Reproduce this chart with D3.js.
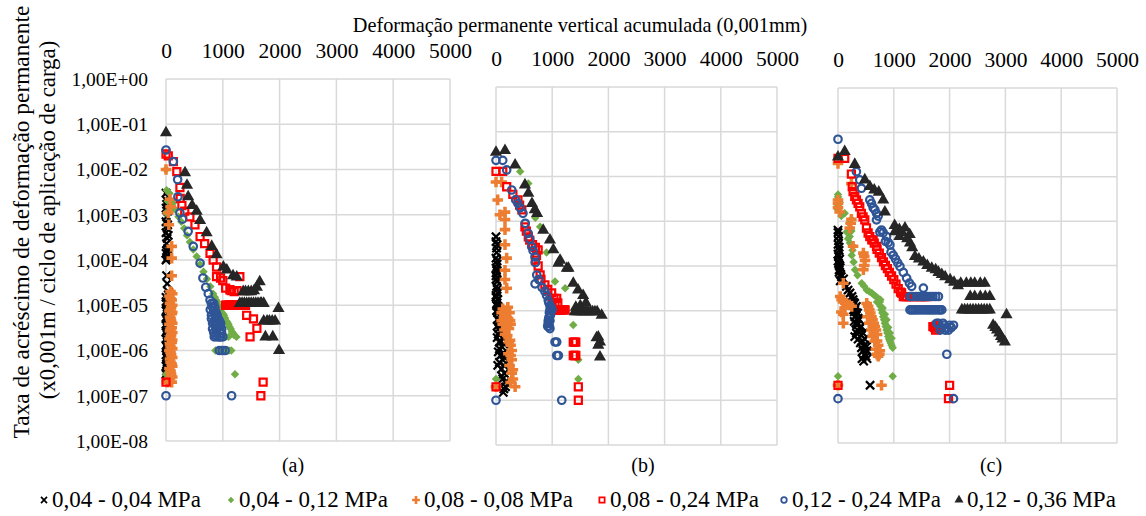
<!DOCTYPE html>
<html>
<head>
<meta charset="utf-8">
<script src="https://cdn.jsdelivr.net/npm/d3@7"></script>
<style>
  body { margin: 0; background: #fff; }
  svg text { font-family: 'Liberation Serif', 'Times New Roman', serif; fill: #000; }
</style>
</head>
<body>
<script>
// ---------------- DATA ----------------
const categories = ["0,04 - 0,04 MPa", "0,04 - 0,12 MPa", "0,08 - 0,08 MPa", "0,08 - 0,24 MPa", "0,12 - 0,24 MPa", "0,12 - 0,36 MPa"];
const panelLabels = ["(a)", "(b)", "(c)"];
const xTicks = [0, 1000, 2000, 3000, 4000, 5000];
const yTickValues = [1, 1e-1, 1e-2, 1e-3, 1e-4, 1e-5, 1e-6, 1e-7, 1e-8];
const yTickLabels = ["1,00E+00", "1,00E-01", "1,00E-02", "1,00E-03", "1,00E-04", "1,00E-05", "1,00E-06", "1,00E-07", "1,00E-08"];
const xTitle = "Deformação permanente vertical acumulada (0,001mm)";
const yTitle1 = "Taxa de acréscimo de deformação permanente";
const yTitle2 = "(x0,001m / ciclo de aplicação de carga)";

// Panel (a): [deformation, rate]
const a_004_004 = [[0,3e-3],[20,2e-3],[0,1.4e-3],[10,9e-4],[30,6e-4],[0,4e-4],[20,3e-4],[10,2.3e-4],[30,1.8e-4],[0,1.4e-4],[20,1.1e-4],[10,4.5e-5],[0,1.5e-5],[30,1.3e-5],[10,1.1e-5],[20,9e-6],[0,7.5e-6],[30,6.5e-6],[10,5.5e-6],[20,4.5e-6],[0,3.8e-6],[30,3.2e-6],[10,2.7e-6],[20,2.2e-6],[0,1.8e-6],[30,1.5e-6],[10,1.2e-6],[20,1e-6],[0,8e-7],[30,6.5e-7],[10,5e-7],[20,4e-7],[0,3e-7],[10,2.5e-7],
  [40,2.5e-3],[10,1.7e-3],[30,1.2e-3],[0,7e-4],[20,5e-4],[40,3.5e-4],[10,1.6e-4],[30,1.25e-4],[0,1e-4],[20,3e-5],[40,2e-5],[40,1.7e-5],[0,1.2e-5],[40,1e-5],[20,8e-6],[40,5e-6],[0,5e-6],[40,3.5e-6],[0,2.5e-6],[40,2e-6],[0,1.3e-6],[40,9e-7],[10,7e-7],[40,5.5e-7],[0,4.5e-7],[30,3.5e-7]];
const a_004_012 = [[0,1e-2],[10,3.5e-3],[60,3e-3],[30,2e-3],[0,1.1e-3],[120,1.8e-3],[160,1.3e-3],[220,9e-4],[270,7e-4],[320,5e-4],[370,3.5e-4],[420,2.5e-4],[480,1.7e-4],[540,1.2e-4],[600,8e-5],[660,5.5e-5],[720,3.8e-5],[780,2.6e-5],[830,1.8e-5],[880,1.3e-5],[920,1e-5],[960,8e-6],[1000,6.5e-6],[1040,5.2e-6],[1080,4.2e-6],[1120,3.3e-6],[1160,2.6e-6],[1200,2.2e-6],[1240,2e-6],[870,1e-6],[920,1e-6],[1000,1e-6],[1080,1e-6],[1150,1e-6],[1215,3e-7],[0,3e-7],
  [860,1.5e-5],[900,1.2e-5],[940,9e-6],[980,7e-6],[1020,6e-6],[1060,4.5e-6],[1100,3.8e-6],[1140,3e-6],[1180,2.4e-6],[1100,2e-6],[1050,2e-6],[960,1e-6],[1040,1e-6],[1110,1e-6]];
const a_008_008 = [[0,1e-2],[70,2.2e-3],[80,1.5e-3],[40,1.1e-3],[50,6e-4],[100,2e-4],[100,1.1e-4],[100,4.5e-5],[80,2e-5],[60,1.6e-5],[100,1.3e-5],[70,1.1e-5],[90,9e-6],[60,7.5e-6],[100,6.5e-6],[70,5.5e-6],[90,4.5e-6],[60,3.8e-6],[100,3.2e-6],[70,2.7e-6],[90,2.2e-6],[60,1.8e-6],[100,1.5e-6],[80,1.2e-6],[60,1e-6],[90,8e-7],[70,6.5e-7],[100,5e-7],[60,4e-7],[90,3e-7],[70,2.4e-7],[100,2e-7],[20,2e-7],
  [110,1.8e-5],[80,1.4e-5],[110,1e-5],[80,8e-6],[110,7e-6],[80,5e-6],[110,4e-6],[80,3e-6],[110,2.5e-6],[80,2e-6],[110,1.7e-6],[70,1.4e-6],[110,1.1e-6],[80,9e-7],[110,7e-7],[80,5.5e-7],[110,4.5e-7],[80,3.5e-7],[110,2.6e-7]];
const a_008_024 = [[0,2.2e-2],[40,2e-2],[130,1.5e-2],[190,9e-3],[245,4e-3],[250,2.3e-3],[280,1.6e-3],[330,1.2e-3],[420,9e-4],[510,6e-4],[600,3.3e-4],[680,2.3e-4],[775,1.4e-4],[830,1e-4],[890,7e-5],[890,4.3e-5],[1000,3.5e-5],[1125,2.2e-5],[1200,2e-5],[1300,4.3e-5],[1050,1e-5],[1100,1e-5],[1150,1e-5],[1200,1e-5],[1250,1e-5],[1300,1e-5],[1350,1e-5],[1400,1e-5],[1420,6e-6],[1540,5e-6],[1600,3.1e-6],[1480,2e-6],[0,2e-7],[1710,2e-7],[1670,1e-7],
  [1075,1e-5],[1125,1e-5],[1175,1e-5],[1225,1e-5],[1275,1e-5],[1325,1e-5],[1375,1e-5],[1150,2.1e-5],[1250,2.1e-5],[1050,2.4e-5],[960,4e-5]];
const a_012_024 = [[0,2.7e-2],[130,1.5e-2],[205,6e-3],[210,2.5e-3],[245,1.1e-3],[290,8e-4],[390,4.3e-4],[480,2e-4],[600,8.5e-5],[650,4e-5],[700,2.5e-5],[745,1.8e-5],[775,1.3e-5],[800,1.1e-5],[820,9e-6],[840,7.5e-6],[860,6e-6],[880,5e-6],[900,4e-6],[920,3.3e-6],[950,2.8e-6],[980,2.4e-6],[1000,2e-6],[850,2e-6],[880,3e-6],[820,4e-6],[800,6e-6],[960,4e-6],[940,1e-6],[990,1e-6],[1040,1e-6],[0,1e-7],[1155,1e-7],
  [780,8e-6],[800,5e-6],[820,3e-6],[840,2.5e-6],[860,2.2e-6],[900,2e-6],[940,2e-6],[960,2e-6],[840,1.1e-5],[860,9e-6],[880,7e-6],[900,6e-6],[920,5e-6],[940,4.5e-6],[960,3.5e-6],[980,3e-6],[900,3e-6],[860,4e-6],[880,3.5e-6]];
const a_012_036 = [[0,6.5e-2],[335,8.5e-3],[370,4.5e-3],[390,2.5e-3],[460,1.6e-3],[540,1.2e-3],[600,7.5e-4],[715,4e-4],[805,2e-4],[890,1.3e-4],[1010,7e-5],[1070,6e-5],[1180,4.5e-5],[1245,4.2e-5],[1360,2e-5],[1450,2e-5],[1550,2.1e-5],[1650,3.3e-5],[1300,1.1e-5],[1380,1.1e-5],[1460,1.1e-5],[1540,1.1e-5],[1620,1.1e-5],[1680,1.1e-5],[1980,8.5e-6],[1720,4.5e-6],[1820,4.5e-6],[1920,4.5e-6],[1750,2e-6],[1880,2e-6],[1990,1e-6],
  [1340,1.1e-5],[1420,1.1e-5],[1500,1.1e-5],[1580,1.1e-5],[1660,1.1e-5],[1720,1.1e-5],[1400,2e-5],[1500,2e-5],[1600,2.5e-5],[1780,4.5e-6],[1870,4.5e-6]];

// Panel (b)
const b_004_004 = [[0,4.5e-4],[20,3e-4],[10,2e-4],[0,1.5e-4],[20,1.1e-4],[10,8e-5],[0,6e-5],[20,4.5e-5],[10,3.5e-5],[30,2.5e-5],[0,2e-5],[20,1.5e-5],[40,1.2e-5],[10,1e-5],[60,8e-6],[30,6.5e-6],[80,5e-6],[50,4e-6],[100,3.2e-6],[20,2.5e-6],[60,2e-6],[100,1.6e-6],[40,1.2e-6],[80,1e-6],[120,8e-7],[30,6e-7],[100,5e-7],[150,4e-7],[120,3e-7],[170,2e-7],[130,1.5e-7],
  [0,3.5e-4],[10,2.5e-4],[20,1.3e-4],[0,9e-5],[20,7e-5],[0,5e-5],[20,3e-5],[0,2.2e-5],[30,1.8e-5],[10,1.3e-5],[50,1e-5],[30,9e-6],[60,6e-6],[20,4.5e-6],[80,3.5e-6],[40,3e-6],[120,2.5e-6],[80,2e-6],[140,1.8e-6],[60,1.4e-6],[120,1.1e-6],[150,9e-7],[60,7e-7],[140,6e-7],[100,3.5e-7],[160,2.5e-7],[140,1.8e-7]];
const b_004_012 = [[430,1.3e-2],[575,7e-3],[700,1.2e-3],[785,7.5e-4],[900,2e-4],[1050,4.5e-5],[1230,3.2e-5],[1375,4.8e-6],[1465,8e-7],[1465,3e-7],[0,3e-7]];
const b_008_008 = [[0,7.5e-3],[100,7.5e-3],[30,3e-3],[160,1.6e-3],[70,1.4e-3],[160,1.1e-3],[160,6.5e-4],[160,3e-4],[190,1.5e-4],[160,8e-5],[160,5e-5],[190,3.2e-5],[210,1.2e-5],[100,9e-6],[150,8e-6],[200,7e-6],[250,6e-6],[120,5e-6],[180,4.5e-6],[230,4e-6],[150,3.7e-6],[250,2.2e-6],[280,1.3e-6],[280,8e-7],[300,4.8e-7],[340,2e-7],[0,2e-7],
  [120,1.1e-5],[180,1e-5],[240,9e-6],[140,7e-6],[220,6.5e-6],[260,5e-6],[200,5.5e-6],[100,6e-6],[160,3e-6],[200,2.8e-6],[230,2e-6],[260,1.7e-6],[220,1.1e-6],[260,1e-6],[240,6e-7],[280,4e-7],[300,3e-7],[260,2.5e-7]];
const b_008_024 = [[0,1.3e-2],[120,1.3e-2],[190,5.9e-3],[390,3e-3],[460,1.8e-3],[515,7.5e-4],[575,4.5e-4],[650,3e-4],[750,2.3e-4],[700,1.35e-4],[750,1e-4],[785,6.3e-5],[870,3.8e-5],[990,2.5e-5],[1080,1.9e-5],[990,1.05e-5],[1040,1.05e-5],[1090,1.05e-5],[1140,1.05e-5],[1190,1.05e-5],[1230,1.05e-5],[1375,2e-6],[1420,2e-6],[1375,1e-6],[1420,1e-6],[0,2e-7],[1465,2e-7],[1465,1e-7],
  [1015,1.05e-5],[1065,1.05e-5],[1115,1.05e-5],[1165,1.05e-5],[1210,1.05e-5],[1000,1.5e-5],[1050,1.5e-5],[1100,1.5e-5],[1400,2e-6],[1400,1e-6],[1030,1.9e-5],[300,4e-3],[420,2.3e-3],[540,6e-4],[600,3.8e-4],[700,2.6e-4],[720,1.7e-4],[800,5e-5],[920,3e-5]];
const b_012_024 = [[0,2.3e-2],[120,2.3e-2],[190,1.4e-2],[280,5e-3],[390,2.5e-3],[480,1.5e-3],[570,5.4e-4],[635,2.7e-4],[695,1.6e-4],[725,6.3e-5],[695,4e-5],[870,2.7e-5],[930,1.7e-5],[990,1.05e-5],[960,1.05e-5],[930,6e-6],[930,5.2e-6],[960,4e-6],[1050,2e-6],[1080,2e-6],[1080,1e-6],[1110,1e-6],[0,1e-7],[1170,1e-7],
  [940,1.5e-5],[960,1.3e-5],[980,1.2e-5],[950,9e-6],[970,8e-6],[940,7e-6],[960,6e-6],[980,1e-5],[1000,1.05e-5],[920,4.5e-6],[950,4.5e-6],[350,3e-3],[430,2e-3],[520,9e-4],[600,4e-4],[660,2.2e-4],[700,1.2e-4],[760,5e-5],[820,3.3e-5],[900,2.2e-5]];
const b_012_036 = [[0,3.5e-2],[160,3.8e-2],[340,1.8e-2],[515,6.5e-3],[575,4.2e-3],[640,2.5e-3],[690,1.8e-3],[730,1.5e-3],[840,6.3e-4],[960,3.8e-4],[1020,2.3e-4],[1110,1.15e-4],[1140,1.35e-4],[1260,8.9e-5],[1290,8.9e-5],[1375,4.1e-5],[1460,2.9e-5],[1550,2.2e-5],[1400,9.5e-6],[1480,9.5e-6],[1560,9.5e-6],[1640,9.5e-6],[1720,9.5e-6],[1800,9.5e-6],[1880,7.9e-6],[1790,2.5e-6],[1850,2e-6],[1850,9.3e-7],
  [1440,9.5e-6],[1520,9.5e-6],[1600,9.5e-6],[1680,9.5e-6],[1760,9.5e-6],[1420,1.2e-5],[1500,1.3e-5],[1600,1.5e-5],[1820,2.6e-6],[1820,1.7e-6]];

// Panel (c)
const c_004_004 = [[0,6.3e-4],[10,4.5e-4],[0,3e-4],[20,2.2e-4],[0,1.8e-4],[30,1.4e-4],[10,1.1e-4],[40,9e-5],[20,7e-5],[60,5.6e-5],[40,4.5e-5],[150,3.4e-5],[215,2.4e-5],[270,1.7e-5],[300,1.4e-5],[330,1.2e-5],[280,1e-5],[350,8.5e-6],[300,7e-6],[380,6e-6],[320,5e-6],[420,4.2e-6],[350,3.5e-6],[450,3e-6],[300,2.5e-6],[480,2.2e-6],[400,1.8e-6],[515,1.5e-6],[450,1.2e-6],[500,9e-7],[460,7e-7],[575,2e-7],
  [0,5.5e-4],[10,3.6e-4],[20,2.6e-4],[10,1.6e-4],[0,1.25e-4],[30,1e-4],[20,8e-5],[50,6.3e-5],[100,5e-5],[180,2.8e-5],[250,2e-5],[280,1.5e-5],[310,1.1e-5],[290,9e-6],[330,7.5e-6],[360,6.5e-6],[290,5.5e-6],[340,4.5e-6],[390,4e-6],[330,3e-6],[420,2.7e-6],[360,2.2e-6],[440,2e-6],[480,1.6e-6],[420,1.4e-6],[520,1.2e-6],[480,1e-6],[430,8e-7],[520,8e-7]];
const c_004_012 = [[0,4e-3],[0,3e-3],[0,2.2e-3],[60,1.3e-3],[240,1.1e-3],[155,5.7e-4],[210,4.5e-4],[215,3.2e-4],[270,2.7e-4],[245,1.7e-4],[305,8e-5],[425,4e-5],[515,2.8e-5],[605,2.4e-5],[680,2e-5],[750,1.5e-5],[780,1e-5],[810,7e-6],[840,5e-6],[870,3.5e-6],[900,2.5e-6],[930,2e-6],[960,1.6e-6],[980,1.4e-6],[980,3.2e-7],[0,3.2e-7],
  [0,3.5e-3],[30,2.6e-3],[0,1.8e-3],[120,1.5e-3],[200,9e-4],[240,6e-4],[180,4e-4],[260,2.2e-4],[280,1.2e-4],[350,6e-5],[470,3.4e-5],[560,2.6e-5],[640,2.2e-5],[720,1.8e-5],[760,1.2e-5],[795,8.5e-6],[825,6e-6],[855,4.2e-6],[885,3e-6],[915,2.2e-6],[945,1.8e-6],[700,1.5e-5],[760,1.7e-5],[800,1.1e-5],[840,8e-6],[870,6e-6],[900,4e-6],[930,3e-6],[960,2.3e-6]];
const c_008_008 = [[0,2e-2],[240,7e-3],[0,3e-3],[0,2e-3],[240,1.1e-3],[210,7e-4],[270,2.7e-4],[455,1.9e-4],[485,1.3e-4],[455,8e-5],[95,4e-5],[65,1.7e-5],[150,1.4e-5],[245,1.2e-5],[95,8e-6],[95,5e-6],[515,1.4e-5],[560,1e-5],[600,7e-6],[640,5e-6],[680,3.5e-6],[620,2.5e-6],[700,2e-6],[750,1.2e-6],[720,9e-7],[780,2e-7],[0,2e-7],
  [0,2.5e-3],[30,1.6e-3],[230,9e-4],[470,1.6e-4],[470,1e-4],[40,2e-5],[90,1.5e-5],[200,1.3e-5],[120,1.1e-5],[60,9e-6],[540,1.2e-5],[580,8.5e-6],[530,7e-6],[620,6e-6],[560,5e-6],[660,4.2e-6],[600,3.5e-6],[640,3e-6],[700,2.8e-6],[660,2e-6],[720,1.6e-6],[680,1.3e-6],[740,1e-6],[700,1e-6]];
const c_008_024 = [[0,2.6e-2],[120,2.6e-2],[240,1.15e-2],[270,4.6e-3],[330,3e-3],[390,2.1e-3],[420,1.5e-3],[480,1.07e-3],[540,5.4e-4],[605,3.8e-4],[630,3.8e-4],[690,2.7e-4],[700,2.3e-4],[780,1.5e-4],[850,1e-4],[920,7e-5],[1000,4.8e-5],[1080,3e-5],[1170,2e-5],[1230,2e-5],[1330,2e-5],[1450,2e-5],[1590,2e-5],[1700,4.2e-6],[1790,3.9e-6],[0,2e-7],[2000,2e-7],[1980,1e-7],
  [1200,2e-5],[1280,2e-5],[1380,2e-5],[1500,2e-5],[1550,2e-5],[1140,2.4e-5],[1730,4e-6],[1760,4.5e-6],[1750,3.5e-6],[255,6e-3],[300,3.6e-3],[360,2.5e-3],[450,1.25e-3],[510,7e-4],[570,4.5e-4],[650,3.2e-4],[740,1.9e-4],[815,1.2e-4],[885,8.5e-5],[960,5.8e-5],[1040,3.8e-5],[1120,2.5e-5]];
const c_012_024 = [[0,7e-2],[330,1.3e-2],[390,8.5e-3],[420,5.5e-3],[570,3e-3],[630,2e-3],[690,1.5e-3],[690,1.07e-3],[750,5.7e-4],[780,6.3e-4],[870,4.5e-4],[850,3.5e-4],[930,2.9e-4],[950,2e-4],[1030,1.4e-4],[1110,9.5e-5],[1230,5.2e-5],[1320,3.4e-5],[1530,3.1e-5],[1290,2e-5],[1400,2e-5],[1500,2e-5],[1600,2e-5],[1700,2e-5],[1800,2e-5],[1290,1e-5],[1350,1e-5],[1420,1e-5],[1500,1e-5],[1580,1e-5],[1650,1e-5],[1720,1e-5],[1800,1e-5],[1860,1e-5],[1770,5e-6],[1850,4e-6],[1920,3.5e-6],[2000,4.5e-6],[2070,4.5e-6],[1950,1e-6],[0,1e-7],[2070,1e-7],
  [1320,1e-5],[1385,1e-5],[1460,1e-5],[1540,1e-5],[1615,1e-5],[1685,1e-5],[1760,1e-5],[1830,1e-5],[1330,2e-5],[1450,2e-5],[1550,2e-5],[1650,2e-5],[1750,2e-5],[1800,5e-6],[1880,5e-6],[1950,4e-6],[2030,4e-6],[1830,3.5e-6],[1900,4.5e-6],[1980,3.5e-6],[600,2.5e-3],[660,1.8e-3],[720,1.3e-3],[810,5.5e-4],[900,3.3e-4],[990,1.7e-4],[1070,1.15e-4],[1170,7e-5],[1280,4e-5]];
const c_012_036 = [[0,2.8e-2],[120,3.7e-2],[300,1.9e-2],[480,8.5e-3],[570,6e-3],[650,5e-3],[730,4.5e-3],[810,3e-3],[840,1.6e-3],[1015,8e-4],[1100,6.5e-4],[1200,7e-4],[1285,5e-4],[1020,5.8e-4],[1100,4.5e-4],[1240,4e-4],[1290,3.2e-4],[1380,1.6e-4],[1530,1.2e-4],[1680,8.7e-5],[1800,7e-5],[1920,5.6e-5],[2010,4.8e-5],[2150,3.5e-5],[2300,4e-5],[2450,4e-5],[2630,4e-5],[2370,2e-5],[2550,2e-5],[2720,2e-5],[2220,1e-5],[2320,1e-5],[2420,1e-5],[2520,1e-5],[2620,1e-5],[2720,1e-5],[3020,7.8e-6],[2780,4.5e-6],[2850,3.5e-6],[2920,2.5e-6],[2990,1.9e-6],
  [2200,4e-5],[2380,4e-5],[2550,4e-5],[2450,2e-5],[2640,2e-5],[2270,1e-5],[2370,1e-5],[2470,1e-5],[2570,1e-5],[2670,1e-5],[2820,4e-6],[2890,3e-6],[2950,2.2e-6],[1150,5.5e-4],[1330,2.5e-4],[1450,1.4e-4],[1600,1e-4],[1750,8e-5],[1860,6.3e-5],[2080,4.2e-5]];

// ---------------- DRAWING ----------------
const W = 1146, H = 516;
const FONT = "'Liberation Serif', 'Times New Roman', serif";
const svg = d3.select("body").append("svg").attr("width", W).attr("height", H);

const styles = [
  { type: d3.symbolTimes, size: 46, fill: "none", stroke: "#000", sw: 2.2, rot: 0 },
  { type: d3.symbolSquare, size: 36, fill: "#70AD47", stroke: "none", sw: 0, rot: 45 },
  { type: d3.symbolCross, size: 62, fill: "#ED7D31", stroke: "none", sw: 0, rot: 0 },
  { type: d3.symbolSquare, size: 50, fill: "none", stroke: "#FF0000", sw: 2.2, rot: 0 },
  { type: d3.symbolCircle, size: 44, fill: "none", stroke: "#2F5597", sw: 2.2, rot: 0 },
  { type: d3.symbolTriangle, size: 64, fill: "#262626", stroke: "none", sw: 0, rot: 0 }
];

const panels = [
  { series: [a_004_004, a_004_012, a_008_008, a_008_024, a_012_024, a_012_036], left: 166, right: 450, top: 79, bottom: 441, labelX: 293, showY: true },
  { series: [b_004_004, b_004_012, b_008_008, b_008_024, b_012_024, b_012_036], left: 496, right: 777, top: 87, bottom: 445, labelX: 643, showY: false },
  { series: [c_004_004, c_004_012, c_008_008, c_008_024, c_012_024, c_012_036], left: 838, right: 1117, top: 88, bottom: 443, labelX: 991, showY: false }
];

panels.forEach((p, pi) => {
  const x = d3.scaleLinear().domain([0, 5000]).range([p.left, p.right]);
  const y = d3.scaleLog().domain([1e-8, 1]).range([p.bottom, p.top]);
  const g = svg.append("g");

  // grid
  g.append("g").selectAll("line").data(xTicks).join("line")
    .attr("x1", d => x(d)).attr("x2", d => x(d))
    .attr("y1", p.top).attr("y2", p.bottom)
    .attr("stroke", "#d9d9d9").attr("stroke-width", 1.5);
  g.append("g").selectAll("line").data(yTickValues).join("line")
    .attr("x1", p.left).attr("x2", p.right)
    .attr("y1", d => y(d)).attr("y2", d => y(d))
    .attr("stroke", "#d9d9d9").attr("stroke-width", 1.5);

  // top x axis
  const xa = g.append("g").attr("transform", `translate(0,${p.top})`)
    .call(d3.axisTop(x).tickValues(xTicks).tickSize(0).tickPadding(21).tickFormat(d3.format("d")));
  xa.attr("font-family", FONT).attr("font-size", 21.5);
  xa.select(".domain").remove();
  xa.selectAll("text").attr("fill", "#000");

  if (p.showY) {
    const ya = g.append("g").attr("transform", `translate(${p.left},0)`)
      .call(d3.axisLeft(y).tickValues(yTickValues).tickSize(0).tickPadding(18)
        .tickFormat((d, i) => yTickLabels[i]));
    ya.attr("font-family", FONT).attr("font-size", 19.5);
    ya.select(".domain").remove();
    ya.selectAll("text").attr("fill", "#000");
  }

  // points
  p.series.forEach((data, si) => {
    const st = styles[si];
    const sym = d3.symbol().type(st.type).size(st.size);
    g.append("g").selectAll("path").data(data).join("path")
      .attr("d", sym)
      .attr("transform", d => `translate(${x(d[0])},${y(d[1])}) rotate(${st.rot})`)
      .attr("fill", st.fill).attr("stroke", st.stroke).attr("stroke-width", st.sw);
  });

  // panel label
  svg.append("text").attr("x", p.labelX).attr("y", 472).attr("text-anchor", "middle")
    .attr("font-size", 20).text(panelLabels[pi]);
});

// titles
svg.append("text").attr("x", 580).attr("y", 32).attr("text-anchor", "middle")
  .attr("font-size", 20.3).text(xTitle);
svg.append("text").attr("transform", "translate(29,222) rotate(-90)").attr("text-anchor", "middle")
  .attr("font-size", 23.4).text(yTitle1);
svg.append("text").attr("transform", "translate(55,220) rotate(-90)").attr("text-anchor", "middle")
  .attr("font-size", 22.8).text(yTitle2);

// legend
const legendX = [44, 231, 416, 602, 784, 959];
const lg = svg.append("g");
categories.forEach((c, i) => {
  const st = styles[i];
  const sym = d3.symbol().type(st.type).size(st.size * 0.55);
  lg.append("path").attr("d", sym)
    .attr("transform", `translate(${legendX[i]},500) rotate(${st.rot})`)
    .attr("fill", st.fill).attr("stroke", st.stroke).attr("stroke-width", st.sw * 0.8);
  lg.append("text").attr("x", legendX[i] + 8).attr("y", 507).attr("font-size", 23).text(c);
});
</script>
</body>
</html>
